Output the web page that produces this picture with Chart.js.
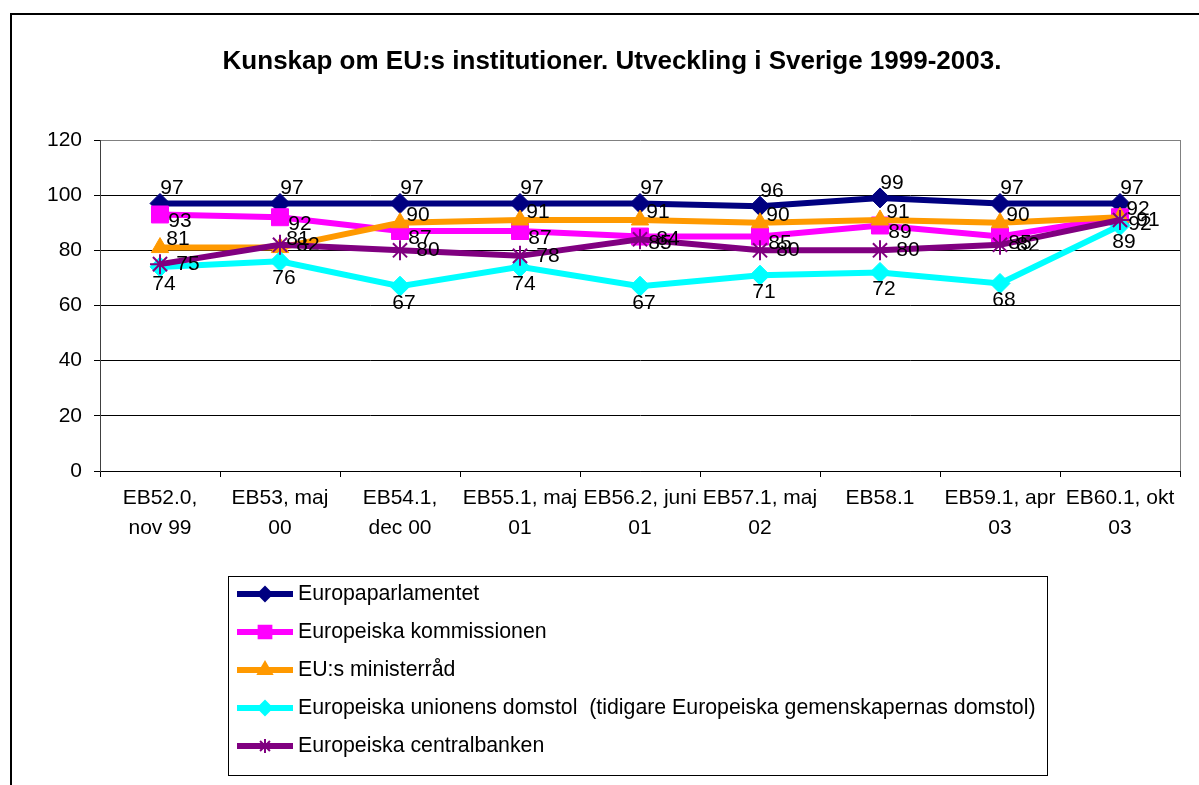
<!DOCTYPE html>
<html lang="sv">
<head>
<meta charset="UTF-8" />
<title>Kunskap om EU:s institutioner</title>
<script src="https://cdn.jsdelivr.net/npm/chart.js"></script>
<style>
  body { margin: 0; background: #fff; }
  canvas { display: block; }
</style>
</head>
<body>
<canvas id="eu-chart" width="1199" height="785"></canvas>
<script>
// --- data ---
const categories = [
  ["EB52.0,", "nov 99"], ["EB53, maj", "00"], ["EB54.1,", "dec 00"],
  ["EB55.1, maj", "01"], ["EB56.2, juni", "01"], ["EB57.1, maj", "02"],
  ["EB58.1"], ["EB59.1, apr", "03"], ["EB60.1, okt", "03"]
];
const europaparlamentet = [97, 97, 97, 97, 97, 96, 99, 97, 97];
const kommissionen      = [93, 92, 87, 87, 85, 85, 89, 85, 92];
const ministerrad       = [81, 81, 90, 91, 91, 90, 91, 90, 92];
const domstol           = [74, 76, 67, 74, 67, 71, 72, 68, 89];
const centralbanken     = [75, 82, 80, 78, 84, 80, 80, 82, 91];
const yTicks = [0, 20, 40, 60, 80, 100, 120];

const FONT = "'Liberation Sans', Arial, sans-serif";

// series styling (r = marker radius in plot, lr = in legend, dx/dy = label offset)
const series = [
  { label: "Europaparlamentet", data: europaparlamentet, color: "#000080", style: "rectRot", r: 10, lr: 7, dx: 12, dy: -15 },
  { label: "Europeiska kommissionen", data: kommissionen, color: "#FF00FF", style: "rect", r: 12, lr: 9, dx: 20, dy: 7 },
  { label: "EU:s ministerråd", data: ministerrad, color: "#FF9900", style: "triangle", r: 10, lr: 8, dx: 18, dy: -8 },
  { label: "Europeiska unionens domstol  (tidigare Europeiska gemenskapernas domstol)", data: domstol, color: "#00FFFF", style: "rectRot", r: 10, lr: 7, dx: 4, dy: 17 },
  { label: "Europeiska centralbanken", data: centralbanken, color: "#800080", style: "star", r: 10, lr: 7, dx: 28, dy: 0 }
];

// frame, title, plot border
const framePlugin = {
  id: "frame",
  beforeDraw(chart) {
    const ctx = chart.ctx;
    ctx.save();
    ctx.strokeStyle = "#000";
    ctx.lineWidth = 2;
    ctx.strokeRect(11, 14, 1204, 800);
    ctx.fillStyle = "#000";
    ctx.font = "bold 26px " + FONT;
    ctx.textAlign = "center";
    ctx.textBaseline = "middle";
    ctx.fillText("Kunskap om EU:s institutioner. Utveckling i Sverige 1999-2003.", 612, 62);
    ctx.restore();
  },
  afterDraw(chart) {
    const a = chart.chartArea, ctx = chart.ctx;
    ctx.save();
    ctx.strokeStyle = "#808080";
    ctx.lineWidth = 1;
    ctx.beginPath();
    ctx.moveTo(a.right + 0.5, a.top);
    ctx.lineTo(a.right + 0.5, a.bottom);
    ctx.stroke();
    ctx.restore();
  }
};

// value labels next to each point
const valueLabels = {
  id: "valueLabels",
  afterDatasetsDraw(chart) {
    const ctx = chart.ctx;
    ctx.save();
    ctx.font = "21px " + FONT;
    ctx.fillStyle = "#000";
    ctx.textAlign = "center";
    ctx.textBaseline = "middle";
    chart.data.datasets.forEach((ds, i) => {
      const meta = chart.getDatasetMeta(i);
      const s = series[i];
      meta.data.forEach((pt, j) => {
        ctx.fillText(String(ds.data[j]), pt.x + s.dx, pt.y + s.dy);
      });
    });
    ctx.restore();
  }
};

// boxed legend below, one entry per row
const boxLegend = {
  id: "boxLegend",
  afterDraw(chart) {
    const ctx = chart.ctx;
    ctx.save();
    ctx.strokeStyle = "#000";
    ctx.lineWidth = 1;
    ctx.strokeRect(228.5, 576.5, 819, 199);
    ctx.font = "21.3px " + FONT;
    ctx.textBaseline = "middle";
    ctx.textAlign = "left";
    series.forEach((s, i) => {
      const y = 594 + i * 38;
      ctx.strokeStyle = s.color;
      ctx.lineWidth = 6;
      ctx.beginPath();
      ctx.moveTo(237, y);
      ctx.lineTo(293, y);
      ctx.stroke();
      ctx.fillStyle = s.color;
      ctx.lineWidth = 2;
      Chart.helpers.drawPoint(ctx, { pointStyle: s.style, radius: s.lr, rotation: 0, borderWidth: 2 }, 265, y);
      ctx.fillStyle = "#000";
      ctx.fillText(s.label, 298, y);
    });
    ctx.restore();
  }
};

new Chart(document.getElementById("eu-chart"), {
  type: "line",
  data: {
    labels: categories,
    datasets: series.map((s, i) => ({
      label: s.label,
      data: s.data,
      borderColor: s.color,
      backgroundColor: s.color,
      pointBackgroundColor: s.color,
      pointBorderColor: s.color,
      pointStyle: s.style,
      pointRadius: s.r,
      pointBorderWidth: s.style === "star" ? 2 : 1,
      borderWidth: 6,
      tension: 0,
      fill: false,
      order: series.length - i
    }))
  },
  options: {
    responsive: false,
    animation: false,
    devicePixelRatio: 1,
    layout: { padding: { top: 140, right: 19, bottom: 0, left: 0 } },
    plugins: {
      legend: { display: false },
      title: { display: false },
      tooltip: { enabled: false }
    },
    scales: {
      x: {
        offset: true,
        grid: { display: true, drawOnChartArea: false, offset: true, tickLength: 6, color: "#000" },
        border: { color: "#000", width: 1 },
        ticks: { color: "#000", font: { family: FONT, size: 21, lineHeight: 1.45 }, padding: 6, maxRotation: 0, autoSkip: false },
        afterFit(scale) { scale.height = 314; }
      },
      y: {
        min: 0,
        max: 120,
        afterBuildTicks(scale) { scale.ticks = yTicks.map(v => ({ value: v })); },
        grid: {
          color: ctx => (ctx.tick && ctx.tick.value === 120 ? "#808080" : "#000"),
          tickColor: "#000",
          tickLength: 6
        },
        border: { color: "#404040", width: 1 },
        ticks: { color: "#000", font: { family: FONT, size: 21 }, padding: 12 },
        afterFit(scale) { scale.width = 100; }
      }
    }
  },
  plugins: [framePlugin, valueLabels, boxLegend]
});
</script>
</body>
</html>
